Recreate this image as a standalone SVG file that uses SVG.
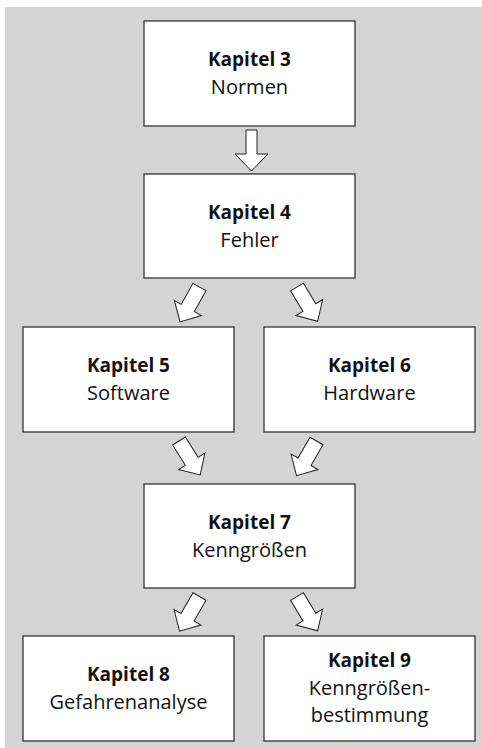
<svg xmlns="http://www.w3.org/2000/svg" width="482" height="748" viewBox="0 0 482 748">
<style>
.bg{fill:#d4d4d4}
.box{fill:#fff;stroke:#333;stroke-width:1.3}
.arr{fill:#fff;stroke:#222;stroke-width:1;stroke-linejoin:miter}
text{font-family:"Open Sans","Noto Sans","Liberation Sans",sans-serif;font-size:20px;fill:#111;text-anchor:middle}
.b{font-weight:bold;font-size:19px}
</style>
<defs>
<path id="av" d="M-5.5,0 H5.5 V24 H16.5 L0,41 L-16.5,24 H-5.5 Z"/>
<path id="ad" d="M-7.5,0 H7.5 V24 H15.5 L0,40 L-15.5,24 H-7.5 Z"/>
</defs>
<rect class="bg" x="5" y="7" width="477" height="741"/>
<g id="connectors">
<use href="#av" class="arr" transform="translate(251.5,130)"/>
<use href="#ad" class="arr" transform="translate(199.5,287) rotate(29)"/>
<use href="#ad" class="arr" transform="translate(297,287) rotate(-31)"/>
<use href="#ad" class="arr" transform="translate(179,441) rotate(-32)"/>
<use href="#ad" class="arr" transform="translate(316.5,441) rotate(30)"/>
<use href="#ad" class="arr" transform="translate(199.5,596.5) rotate(30)"/>
<use href="#ad" class="arr" transform="translate(297,596.5) rotate(-31)"/>
</g>
<g id="k3">
<rect class="box" x="144" y="21" width="211" height="105"/>
<text class="b" x="249.5" y="66">Kapitel 3</text>
<text x="249.5" y="94">Normen</text>
</g>
<g id="k4">
<rect class="box" x="144" y="174" width="211" height="104"/>
<text class="b" x="249.5" y="219">Kapitel 4</text>
<text x="249.5" y="247">Fehler</text>
</g>
<g id="k5">
<rect class="box" x="23" y="327" width="211" height="105"/>
<text class="b" x="128.5" y="372">Kapitel 5</text>
<text x="128.5" y="400">Software</text>
</g>
<g id="k6">
<rect class="box" x="264" y="327" width="211" height="105"/>
<text class="b" x="369.5" y="372">Kapitel 6</text>
<text x="369.5" y="400">Hardware</text>
</g>
<g id="k7">
<rect class="box" x="144" y="484" width="211" height="104"/>
<text class="b" x="249.5" y="529">Kapitel 7</text>
<text x="249.5" y="557">Kenngrößen</text>
</g>
<g id="k8">
<rect class="box" x="23" y="636" width="211" height="105"/>
<text class="b" x="128.5" y="681">Kapitel 8</text>
<text x="128.5" y="709">Gefahrenanalyse</text>
</g>
<g id="k9">
<rect class="box" x="264" y="636" width="211" height="105"/>
<text class="b" x="369.5" y="667">Kapitel 9</text>
<text x="369.5" y="695">Kenngrößen-</text>
<text x="369.5" y="722">bestimmung</text>
</g>
</svg>
